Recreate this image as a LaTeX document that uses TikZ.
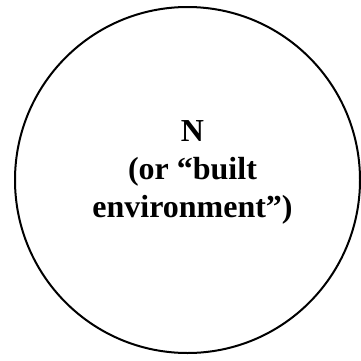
\documentclass[tikz,border=0pt]{standalone}
\usepackage{fontspec}
\setmainfont{Liberation Serif}
\tikzset{ring/.style={draw=black,line width=2pt},
lbl/.style={align=center,font=\fontsize{32}{38}\selectfont\bfseries,text=black,inner sep=0pt}}
\begin{document}
\begin{tikzpicture}[x=1pt,y=1pt]
\useasboundingbox[fill=white] (0,0) rectangle (361,360);
\draw[ring] (187.5,180) ellipse [x radius=172.5, y radius=173];
\node[lbl] (t) at (192.5,187.5) {N\\(or “built\\environment”)};
\end{tikzpicture}
\end{document}
